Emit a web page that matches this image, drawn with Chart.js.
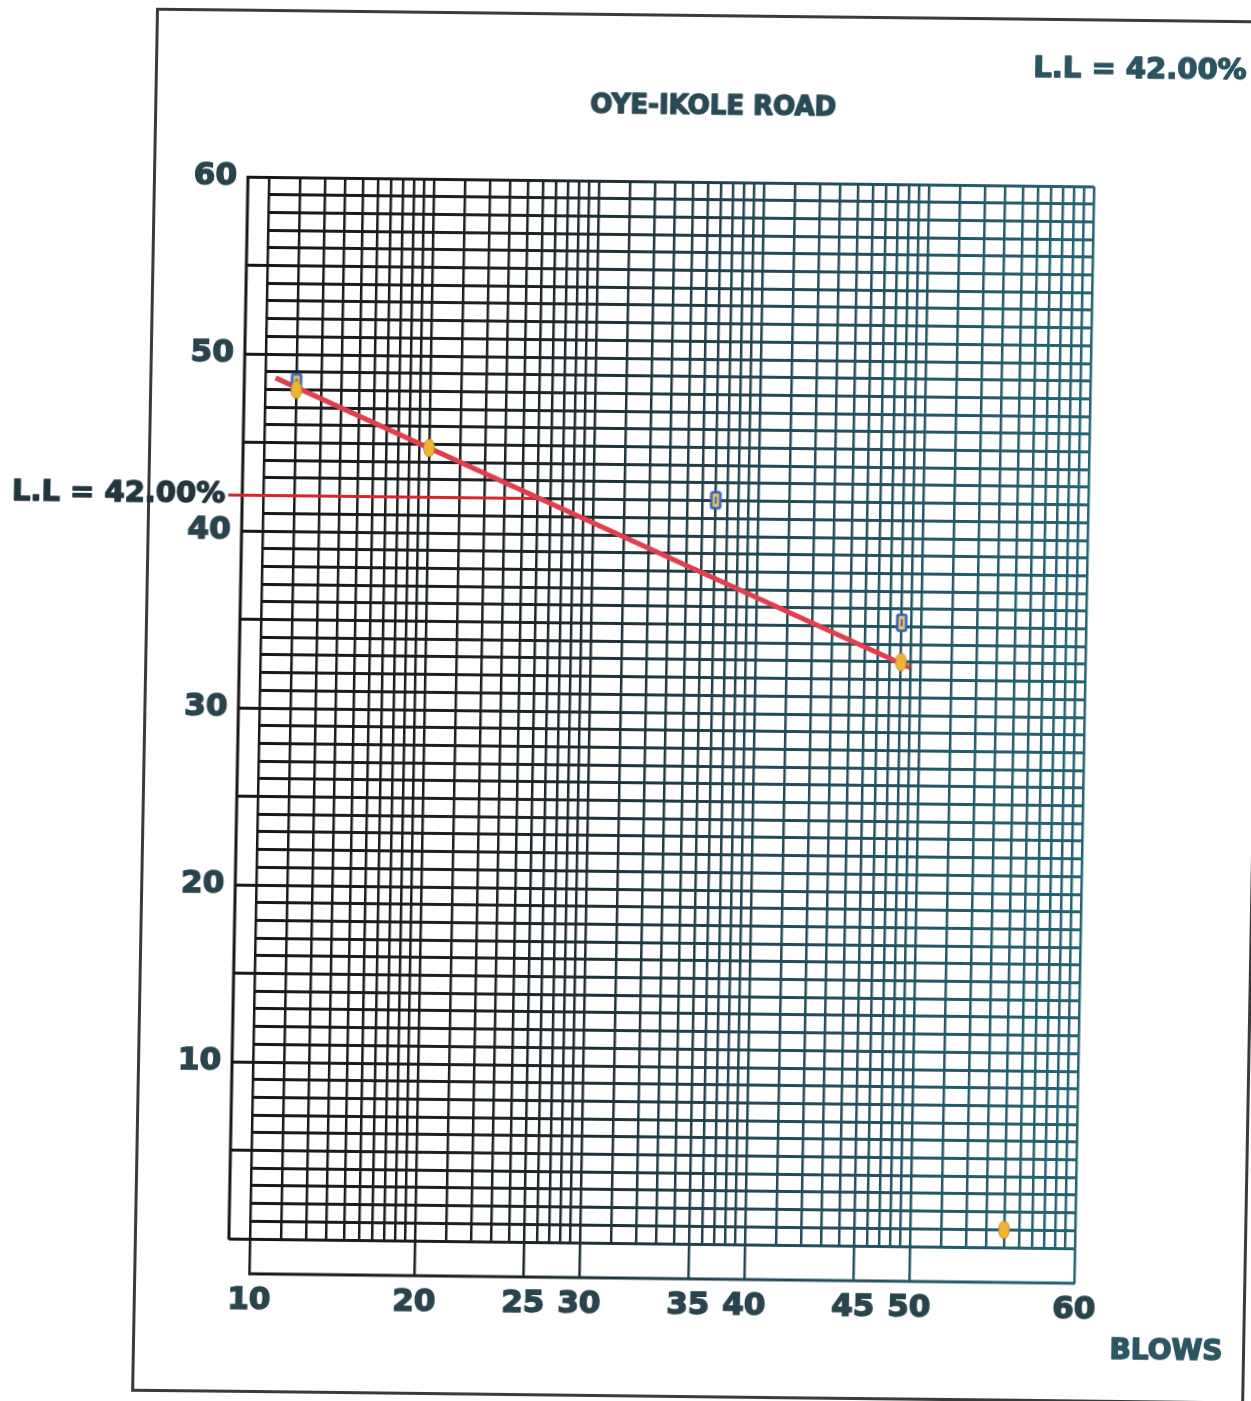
<!DOCTYPE html>
<html>
<head>
<meta charset="utf-8">
<title>Liquid limit - Oye-Ikole road</title>
<script src="https://cdn.jsdelivr.net/npm/chart.js@4.4.1/dist/chart.umd.min.js"></script>
<style>
  html, body { margin: 0; padding: 0; background: #fff; overflow: hidden; }
  /* the scanned sheet is slightly skewed, so the whole sheet gets the same skew */
  #sheet {
    position: relative; width: 1300px; height: 1401px;
    transform-origin: 269px 177px;
    transform: matrix(1, 0.0115, -0.018, 1, 0, 0);
  }
  #frame {
    position: absolute; left: 153px; top: 9px; width: 1113px; height: 1384px;
    border: 3px solid #3a3a3a; box-sizing: border-box;
  }
  #llChart { position: absolute; left: 0; top: 0; }
</style>
</head>
<body>
<div id="sheet">
  <div id="frame"></div>
  <canvas id="llChart" width="1300" height="1401"></canvas>
</div>
<script>
/* ====== DATA ====== */
const xMin = 10, xMax = 60;
const yMin = 0, yMax = 60;

// labelled ticks
const xLabelTicks = [10, 20, 25, 30, 35, 40, 45, 50, 60];
const yLabelTicks = [10, 20, 30, 40, 50, 60];
const yStripTicks = [0, 5, 10, 15, 20, 25, 30, 35, 40, 45, 50, 55, 60];

// test points (blows, moisture %)
const yellowBlows = [11, 20, 48, 54];
const yellowMoisture = [48, 44.8, 33, 1];
const blueBlows = [11, 36, 48];
const blueMoisture = [48.4, 42, 35.2];

// flow curve as drawn
const flowBlows = [10.3, 48.9];
const flowMoisture = [48.65, 32.7];

const liquidLimit = 42;
const llBlows = 25;

const titleText = 'OYE-IKOLE ROAD';
const llText = 'L.L = ' + liquidLimit.toFixed(2) + '%';
const xAxisText = 'BLOWS';

/* ====== SETUP ====== */
const FONT = '"DejaVu Sans", sans-serif';
const TEXT_COLOR = '#29444d';
const Y_TICK_LEN = 21;   // left strip
const X_TICK_LEN = 35;   // bottom strip

// one grid line per blow / per percent
const xGridValues = [];
for (let v = xMin; v <= xMax; v++) xGridValues.push(v);
const yGridValues = [];
for (let v = yMin; v <= yMax; v++) yGridValues.push(v);

/* The sheet repeats a small log cycle (1 -> 4) in every 10 blows */
const CYCLE = 10, CURVE = 3;
function blowsToDecimal(v) {
    const n = (xMax - xMin) / CYCLE;
    let c = Math.floor((v - xMin) / CYCLE);
    c = Math.max(0, Math.min(n - 1, c));
    const f = (v - xMin - c * CYCLE) / CYCLE;
    return (c + Math.log(1 + CURVE * f) / Math.log(1 + CURVE)) / n;
}
function decimalToBlows(d) {
    const n = (xMax - xMin) / CYCLE;
    const t = d * n;
    let c = Math.max(0, Math.min(n - 1, Math.floor(t)));
    const f = (Math.pow(1 + CURVE, t - c) - 1) / CURVE;
    return xMin + (c + f) * CYCLE;
}

class BlowsScale extends Chart.LinearScale {
    static id = 'blows';
    buildTicks() {
        super.buildTicks();
        return xGridValues.map(v => ({ value: v }));
    }
    getPixelForValue(value) {
        return this.getPixelForDecimal(blowsToDecimal(value));
    }
    getValueForPixel(pixel) {
        return decimalToBlows(this.getDecimalForPixel(pixel));
    }
}
Chart.register(BlowsScale);

let gridGradient = null;
function gridColor(c) {
    const chart = c.chart;
    const area = chart.chartArea;
    if (!area) return '#222';
    if (!gridGradient) {
        gridGradient = chart.ctx.createLinearGradient(area.left - 30, 0, area.right, 0);
        gridGradient.addColorStop(0, '#161616');
        gridGradient.addColorStop(0.35, '#1d2427');
        gridGradient.addColorStop(0.6, '#244752');
        gridGradient.addColorStop(1, '#256473');
    }
    return gridGradient;
}

function makeMarker(kind) {
    const c = document.createElement('canvas');
    c.width = 14; c.height = 22;
    const g = c.getContext('2d');
    if (kind === 'yellow') {
        g.beginPath();
        g.ellipse(7, 11, 5.5, 9, 0, 0, Math.PI * 2);
        g.fillStyle = '#f1b42e';
        g.fill();
        g.strokeStyle = 'rgba(150,120,60,0.7)';
        g.lineWidth = 1;
        g.stroke();
    } else {
        g.beginPath();
        g.roundRect(2.5, 2.5, 9, 16, 2);
        g.fillStyle = '#e8c258';
        g.fill();
        g.strokeStyle = '#2e5fc6';
        g.lineWidth = 2.5;
        g.stroke();
        g.fillStyle = '#3b6bd0';
        g.fillRect(6, 7, 2, 7);
    }
    return c;
}

/* ====== EXTRA DRAWING ====== */
const sheetPlugin = {
    id: 'sheet',
    beforeDatasetsDraw(chart) {
        const { ctx, chartArea: a, scales: { x, y } } = chart;
        ctx.save();
        // outer lines of the two tick strips
        ctx.strokeStyle = gridGradient || '#222';
        ctx.lineWidth = 3;
        ctx.beginPath();
        ctx.moveTo(a.left - Y_TICK_LEN, a.top - 1);
        ctx.lineTo(a.left - Y_TICK_LEN, a.bottom + 1);
        ctx.moveTo(a.left - 1, a.bottom + X_TICK_LEN);
        ctx.lineTo(a.right + 1, a.bottom + X_TICK_LEN);
        ctx.stroke();

        // liquid limit read at 25 blows
        const yLL = y.getPixelForValue(liquidLimit);
        ctx.strokeStyle = '#d8262f';
        ctx.lineWidth = 3;
        ctx.beginPath();
        ctx.moveTo(a.left - 35, yLL);
        ctx.lineTo(x.getPixelForValue(llBlows), yLL);
        ctx.stroke();
        ctx.restore();
    },
    afterDraw(chart) {
        const { ctx, chartArea: a, scales: { y } } = chart;
        ctx.save();
        ctx.textBaseline = 'middle';
        ctx.lineWidth = 1.5;
        ctx.lineJoin = 'round';

        const put = (text, px, py, color) => {
            ctx.fillStyle = color;
            ctx.strokeStyle = color;
            ctx.fillText(text, px, py);
            ctx.strokeText(text, px, py);
        };

        ctx.font = 'bold 29px ' + FONT;
        ctx.textAlign = 'right';
        put(llText, a.left - 38, y.getPixelForValue(liquidLimit), '#22363d');

        ctx.textAlign = 'center';
        put(llText, 1138, 60, '#2c5460');

        ctx.font = 'bold 26px ' + FONT;
        put(titleText, 712, 102, '#2a4a55');

        ctx.font = 'bold 28px ' + FONT;
        put(xAxisText, 1187, 1342, '#2c5661');
        ctx.restore();
    }
};

/* ====== CHART ====== */
const ctx = document.getElementById('llChart').getContext('2d');

const chart = new Chart(ctx, {
    type: 'scatter',
    data: {
        datasets: [
            {
                label: 'Trial points',
                data: yellowBlows.map((b, i) => ({ x: b, y: yellowMoisture[i] })),
                pointStyle: makeMarker('yellow'),
                pointRadius: 7,
                order: 1
            },
            {
                label: 'Check points',
                data: blueBlows.map((b, i) => ({ x: b, y: blueMoisture[i] })),
                pointStyle: makeMarker('blue'),
                pointRadius: 7,
                order: 2
            },
            {
                label: 'Flow curve',
                data: flowBlows.map((b, i) => ({ x: b, y: flowMoisture[i] })),
                showLine: true,
                borderColor: '#e0404e',
                borderWidth: 5,
                pointRadius: 0,
                order: 3
            }
        ]
    },
    options: {
        responsive: false,
        animation: false,
        events: [],
        layout: { padding: { top: 177, right: 206, bottom: 0, left: 0 } },
        scales: {
            x: {
                type: 'blows',
                min: xMin,
                max: xMax,
                afterFit: (scale) => { scale.height = 1401 - 1239; },
                border: { display: false },
                grid: {
                    color: gridColor,
                    lineWidth: 2.5,
                    tickLength: X_TICK_LEN,
                    tickWidth: 2.5,
                    tickColor: (c) => xLabelTicks.includes(c.tick.value) ? gridColor(c) : 'rgba(0,0,0,0)'
                },
                ticks: {
                    autoSkip: false,
                    maxRotation: 0,
                    minRotation: 0,
                    padding: 8,
                    color: TEXT_COLOR,
                    textStrokeColor: TEXT_COLOR,
                    textStrokeWidth: 1.5,
                    font: { family: FONT, weight: 'bold', size: 31 },
                    callback: (v) => xLabelTicks.includes(v) ? String(v) : ''
                }
            },
            y: {
                type: 'linear',
                min: yMin,
                max: yMax,
                afterBuildTicks: (scale) => { scale.ticks = yGridValues.map(v => ({ value: v })); },
                afterFit: (scale) => { scale.width = 269; },
                border: { display: false },
                grid: {
                    color: gridColor,
                    lineWidth: 3,
                    tickLength: Y_TICK_LEN,
                    tickWidth: 3,
                    tickColor: (c) => yStripTicks.includes(c.tick.value) ? gridColor(c) : 'rgba(0,0,0,0)'
                },
                ticks: {
                    autoSkip: false,
                    padding: 11,
                    color: TEXT_COLOR,
                    textStrokeColor: TEXT_COLOR,
                    textStrokeWidth: 1.5,
                    font: { family: FONT, weight: 'bold', size: 31 },
                    callback: (v) => yLabelTicks.includes(v) ? String(v) : ''
                }
            }
        },
        plugins: {
            legend: { display: false },
            tooltip: { enabled: false },
            title: { display: false }
        }
    },
    plugins: [sheetPlugin]
});
</script>
</body>
</html>
